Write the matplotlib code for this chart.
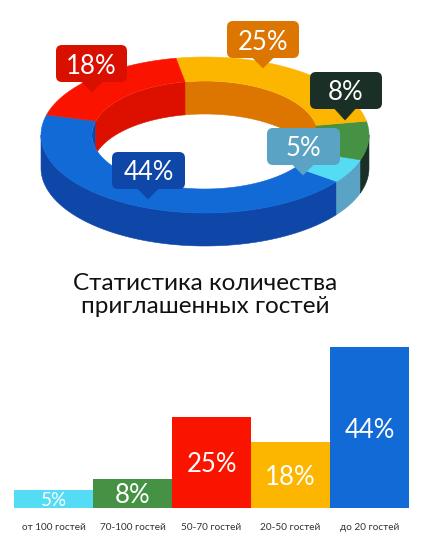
import numpy as np
import matplotlib
matplotlib.use('Agg')
import matplotlib.pyplot as plt
from matplotlib.patches import Ellipse, FancyBboxPatch, Polygon

plt.rcParams['font.family'] = ['Lato', 'Open Sans', 'DejaVu Sans']

# ring shares, going round from the left side through the front
ringShares = [44, 5, 8, 25, 18]
ringTopColors = ['#116ad6', '#55dcf5', '#459245', '#fdb600', '#fa1400']
ringWallColors = ['#0f47a8', '#5ba3c4', '#1a2f25', '#dc7600', '#dd1000']

# bars along the bottom
barLabels = ['от 100 гостей', '70-100 гостей', '50-70 гостей', '20-50 гостей', 'до 20 гостей']
barValues = [5, 8, 25, 18, 44]
barColors = ['#55dcf5', '#459245', '#fa1400', '#fdb600', '#116ad6']

titleLines = 'Статистика количества\nприглашенных гостей'

W, H = 424, 551
fig = plt.figure(figsize=(W / 100, H / 100), dpi=100)

# whole-figure axes in pixels for the ring and the title
ax = fig.add_axes([0, 0, 1, 1])
ax.set_xlim(0, W)
ax.set_ylim(H, 0)
ax.axis('off')

cx, cy = 205, 135
rxOut, ryOut = 164, 78
rxIn, ryIn = 113, 54
depth = 33
startAngle = 165


def arc(rx, ry, a0, a1, dy=0):
    t = np.radians(np.linspace(a0, a1, max(int(abs(a1 - a0)) * 2, 2)))
    return np.column_stack([cx + rx * np.cos(t), cy - ry * np.sin(t) + dy])


def poly(points, color, z, clip=None):
    p = Polygon(points, closed=True, facecolor=color, edgecolor=color, lw=0.4, zorder=z)
    ax.add_patch(p)
    if clip is not None:
        p.set_clip_path(clip)


hole = Ellipse((cx, cy), 2 * rxIn, 2 * ryIn, transform=ax.transData, facecolor='white', edgecolor='none', zorder=0)
ax.add_patch(hole)

a = startAngle
for share, top, wall in zip(ringShares, ringTopColors, ringWallColors):
    b = a + share * 3.6

    # top face
    poly(np.vstack([arc(rxOut, ryOut, a, b), arc(rxIn, ryIn, b, a)]), top, 3)

    # outer wall shows only on the front half (180-360)
    lo, hi = max(a, 180), min(b, 360)
    if hi > lo:
        poly(np.vstack([arc(rxOut, ryOut, lo, hi), arc(rxOut, ryOut, hi, lo, depth)]), wall, 2)

    # inner wall shows on the back half, seen through the hole
    for lo, hi in [(a, min(b, 180)), (max(a, 360), min(b, 540))]:
        if hi > lo:
            poly(np.vstack([arc(rxIn, ryIn, lo, hi), arc(rxIn, ryIn, hi, lo, depth)]), wall, 1, clip=hole)
    a = b

# value callouts: box left, top, right, bottom, pointer tip, text, colour
callouts = [
    (56, 45, 127, 82, (92, 92), '18%', '#d90f00'),
    (227, 21, 299, 58, (263, 68), '25%', '#dc7600'),
    (310, 72, 382, 109, (345, 120), '8%', '#1a2f25'),
    (267, 128, 340, 165, (303, 175), '5%', '#5ba3c4'),
    (112, 152, 185, 189, (148, 199), '44%', '#0f47a8'),
]
for x0, y0, x1, y1, tip, text, color in callouts:
    r = 6
    ax.add_patch(FancyBboxPatch((x0 + r, y0 + r), x1 - x0 - 2 * r, y1 - y0 - 2 * r,
                                boxstyle='round,pad=%d,rounding_size=%d' % (r, r),
                                facecolor=color, edgecolor='none', zorder=5))
    poly([(tip[0] - 11, y1 - 1), (tip[0] + 11, y1 - 1), tip], color, 5)
    ax.text((x0 + x1) / 2, (y0 + y1) / 2, text, color='white', fontsize=18.5,
            ha='center', va='center_baseline', zorder=6)

ax.text(205, 295, titleLines, ha='center', va='center', fontsize=17.5,
        color='#111111', linespacing=1.16)

# bar chart axes; the tallest bar sets the scale
barAx = fig.add_axes([14 / W, 1 - 508 / H, 395 / W, 161 / H])
pos = np.arange(len(barValues))
barAx.bar(pos, barValues, width=1.0, color=barColors)
barAx.set_xlim(-0.5, len(barValues) - 0.5)
barAx.set_ylim(0, max(barValues))
barAx.set_yticks([])
barAx.set_xticks(pos)
barAx.set_xticklabels(barLabels, fontsize=7.2, color='#333333')
barAx.tick_params(axis='x', length=0, pad=11)
for side in barAx.spines.values():
    side.set_visible(False)
barAx.patch.set_alpha(0)

# the shortest bar needs a smaller label to keep the white text inside it
for i, v in enumerate(barValues):
    barAx.text(i, v / 2, '%d%%' % v, color='white', fontsize=13.5 if v < 6 else 18.5,
               ha='center', va='center_baseline')

fig.savefig('out.png', dpi=100)
